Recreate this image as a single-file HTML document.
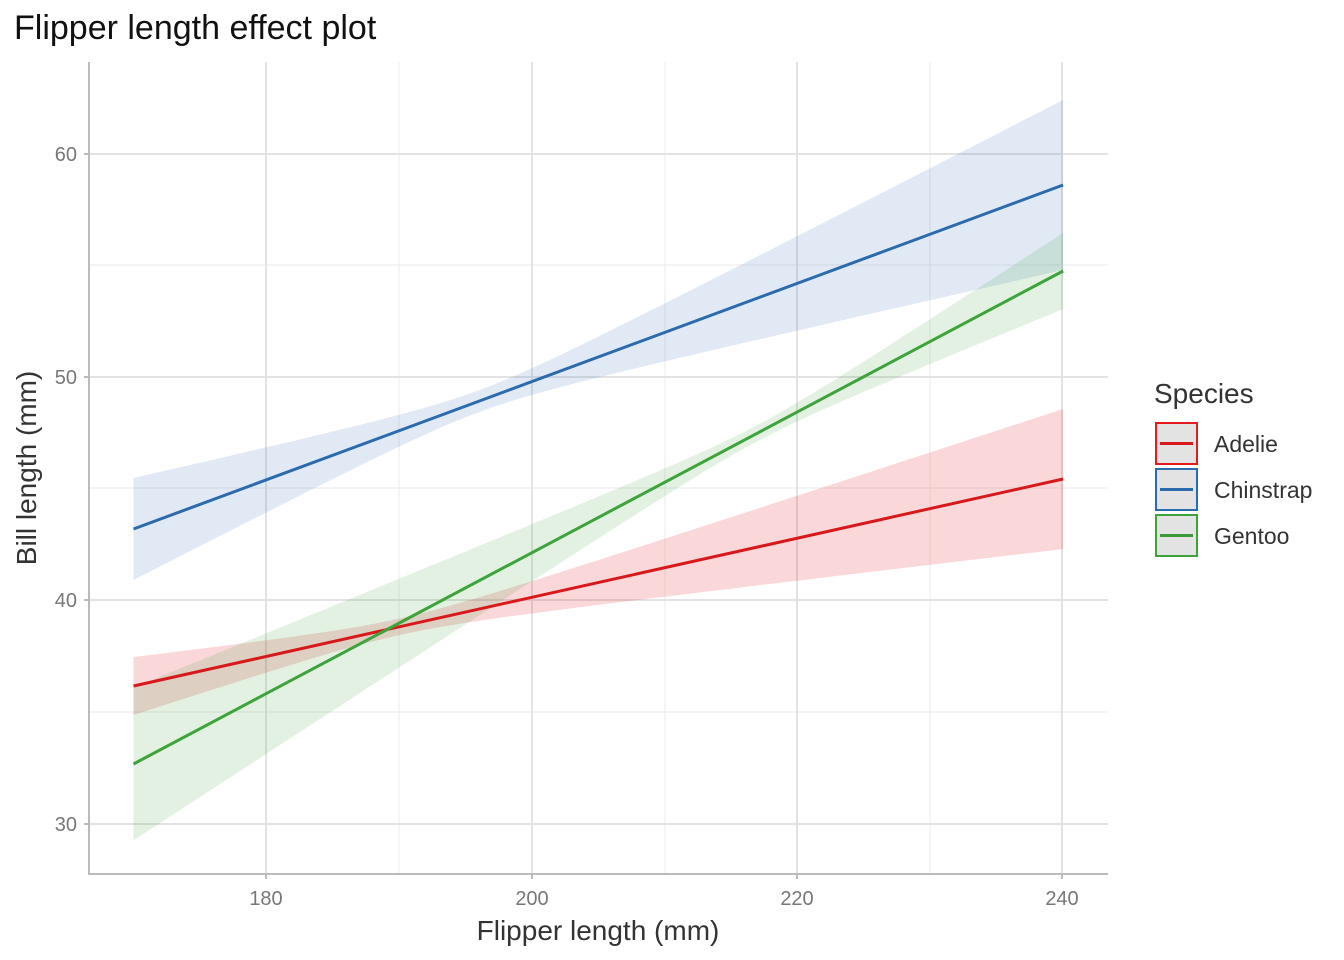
<!DOCTYPE html>
<html><head><meta charset="utf-8"><style>
body{margin:0;background:#fff;}
svg{display:block;font-family:"Liberation Sans",Arial,sans-serif;}
</style></head><body>
<svg id="s" width="1344" height="960" xmlns="http://www.w3.org/2000/svg">
<rect width="1344" height="960" fill="#fff"/>
<g stroke="#eeeeee" stroke-width="1.2">
<line x1="399" y1="62" x2="399" y2="874"/><line x1="665" y1="62" x2="665" y2="874"/><line x1="930" y1="62" x2="930" y2="874"/>
<line x1="89" y1="265" x2="1108" y2="265"/><line x1="89" y1="488" x2="1108" y2="488"/><line x1="89" y1="712" x2="1108" y2="712"/>
</g>
<g stroke="#e3e3e3" stroke-width="2">
<line x1="266" y1="62" x2="266" y2="874"/><line x1="532" y1="62" x2="532" y2="874"/><line x1="797" y1="62" x2="797" y2="874"/><line x1="1062" y1="62" x2="1062" y2="874"/>
<line x1="89" y1="154" x2="1108" y2="154"/><line x1="89" y1="377" x2="1108" y2="377"/><line x1="89" y1="600" x2="1108" y2="600"/><line x1="89" y1="824" x2="1108" y2="824"/>
</g>
<g id="series"></g>
<g stroke="#bbb" stroke-width="2">
<line x1="89" y1="62" x2="89" y2="874"/><line x1="88" y1="874" x2="1108" y2="874"/>
<line x1="84" y1="154" x2="89" y2="154"/><line x1="84" y1="377" x2="89" y2="377"/><line x1="84" y1="600" x2="89" y2="600"/><line x1="84" y1="824" x2="89" y2="824"/>
<line x1="266" y1="874" x2="266" y2="879"/><line x1="532" y1="874" x2="532" y2="879"/><line x1="797" y1="874" x2="797" y2="879"/><line x1="1062" y1="874" x2="1062" y2="879"/>
</g>
<g fill="#777" font-size="20" text-anchor="end">
<text x="77" y="161">60</text><text x="77" y="384">50</text><text x="77" y="607">40</text><text x="77" y="831">30</text>
</g>
<g fill="#777" font-size="20" text-anchor="middle">
<text x="266" y="905">180</text><text x="532" y="905">200</text><text x="797" y="905">220</text><text x="1062" y="905">240</text>
</g>
<text x="598" y="940" font-size="28" fill="#333" text-anchor="middle">Flipper length (mm)</text>
<text transform="translate(36,468) rotate(-90)" font-size="28" fill="#333" text-anchor="middle">Bill length (mm)</text>
<text x="14" y="39" font-size="34" fill="#111">Flipper length effect plot</text>
<text x="1154" y="403" font-size="28" fill="#333">Species</text>
<g stroke-width="2">
<rect x="1156" y="423" width="41" height="41" fill="#e3e3e3" stroke="#e41a1c"/>
<line x1="1160" y1="443.5" x2="1193" y2="443.5" stroke="#d7191c" stroke-width="3"/>
<rect x="1156" y="469" width="41" height="41" fill="#e3e3e3" stroke="#2b6cb0"/>
<line x1="1160" y1="489.5" x2="1193" y2="489.5" stroke="#2b6aad" stroke-width="3"/>
<rect x="1156" y="515" width="41" height="41" fill="#e3e3e3" stroke="#3ea33a"/>
<line x1="1160" y1="535.5" x2="1193" y2="535.5" stroke="#3a9a37" stroke-width="3"/>
</g>
<g fill="#333" font-size="23">
<text x="1214" y="452">Adelie</text><text x="1214" y="498">Chinstrap</text><text x="1214" y="544">Gentoo</text>
</g>
</svg>
<script>
var px=function(v){return 133.5+(v-170)*13.28;};
var S=[
 {c:"#d7191c",f:"rgba(228,26,28,0.17)",y0:686,y1:479,m:190,a:68,b:1.933},
 {c:"#2b6aad",f:"rgba(55,110,180,0.15)",y0:529,y1:185,m:196,a:120,b:3.67},
 {c:"#3ea33a",f:"rgba(62,163,58,0.15)",y0:764,y1:271,m:217,a:64,b:2.61}
];
var g=document.getElementById("series");
var fills="",lines="";
S.forEach(function(s){
 var up=[],lo=[];
 for(var v=170;v<=240.001;v+=1){
  var y=s.y0+(s.y1-s.y0)*(v-170)/70,w=Math.sqrt(s.a+s.b*(v-s.m)*(v-s.m));
  up.push(px(v).toFixed(1)+","+(y-w).toFixed(1));lo.unshift(px(v).toFixed(1)+","+(y+w).toFixed(1));
 }
 fills+='<polygon points="'+up.concat(lo).join(" ")+'" fill="'+s.f+'"/>';
 lines+='<line x1="'+px(170)+'" y1="'+s.y0+'" x2="'+px(240)+'" y2="'+s.y1+'" stroke="'+s.c+'" stroke-width="3"/>';
});
g.innerHTML=fills+lines;
</script>
</body></html>
